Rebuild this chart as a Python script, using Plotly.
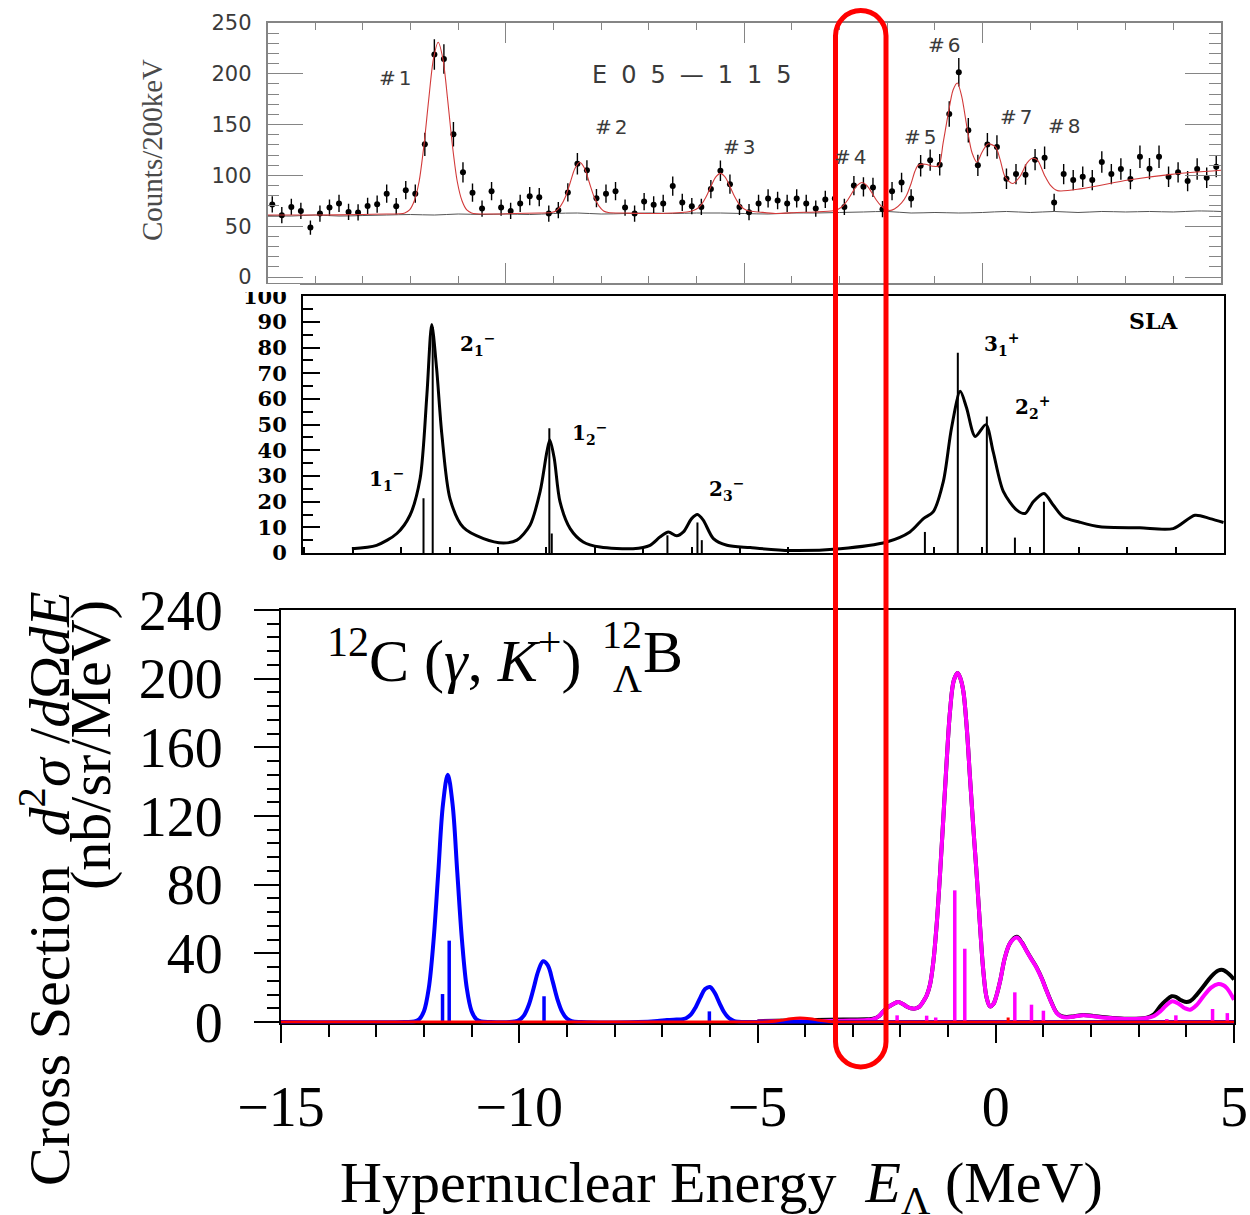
import plotly.graph_objects as go

W, H = 1250, 1215

# ---------------- top panel : E05-115 spectrum ----------------
exp_x = [-14.9, -14.7, -14.5, -14.3, -14.1, -13.9, -13.7, -13.5, -13.3, -13.1,
         -12.9, -12.7, -12.5, -12.3, -12.1, -11.9, -11.7, -11.5, -11.3, -11.1,
         -10.9, -10.7, -10.5, -10.3, -10.1, -9.9, -9.7, -9.5, -9.3, -9.1,
         -8.9, -8.7, -8.5, -8.3, -8.1, -7.9, -7.7, -7.5, -7.3, -7.1,
         -6.9, -6.7, -6.5, -6.3, -6.1, -5.9, -5.7, -5.5, -5.3, -5.1,
         -4.9, -4.7, -4.5, -4.3, -4.1, -3.9, -3.7, -3.5, -3.3, -3.1,
         -2.9, -2.7, -2.5, -2.3, -2.1, -1.9, -1.7, -1.5, -1.3, -1.1,
         -0.9, -0.7, -0.5, -0.3, -0.1, 0.1, 0.3, 0.5, 0.7, 0.9,
         1.1, 1.3, 1.5, 1.7, 1.9, 2.1, 2.3, 2.5, 2.7, 2.9,
         3.1, 3.3, 3.5, 3.7, 3.9, 4.1, 4.3, 4.5, 4.7, 4.9]
exp_counts = [71.4, 60.9, 69, 65, 48.7, 62.5, 68.4, 72.4, 64, 63.5,
              70, 71.7, 82, 69.7, 85.5, 82, 130.6, 219, 214.5, 140.5,
              103, 83, 67.4, 84.5, 68.4, 65, 72.4, 79.6, 78.6, 62.5,
              65.8, 83.2, 111.5, 105, 77.6, 82, 84.5, 68.4, 62.5, 74.3,
              71, 72.4, 89.5, 73.4, 69.7, 69, 86.5, 104.6, 91.4, 69,
              63.8, 72.4, 77.3, 75.3, 72.4, 77.3, 72.4, 67.4, 76.3, 77.3,
              69, 90, 88.8, 88.2, 66.8, 84.5, 93, 77.3, 109.5, 115,
              110.5, 160.5, 201.6, 144.4, 109.9, 130.3, 128, 96.7, 101.3, 100.7,
              115.5, 117.4, 73.4, 101.3, 95.4, 98.7, 95.4, 113.2, 101.3, 106.3,
              96.4, 118.4, 106.6, 118.4, 98.7, 103, 94.4, 106.3, 97.7, 108.6]
exp_err = [8, 8, 8, 8, 7, 8, 8, 8.5, 8, 8,
           8, 8.5, 9, 8, 9, 9, 11.5, 15, 14.5, 12,
           10, 9, 8, 9, 8, 8, 8.5, 9, 9, 8,
           8, 9, 10.5, 10, 9, 9, 9, 8, 8, 8.5,
           8.5, 8.5, 9.5, 8.5, 8, 8, 9, 10, 9.5, 8,
           8, 8.5, 9, 8.5, 8.5, 9, 8.5, 8, 8.5, 9,
           8, 9.5, 9.5, 9.5, 8, 9, 9.5, 9, 10.5, 10.5,
           10.5, 12.5, 14, 12, 10.5, 11.5, 11.5, 10, 10, 10,
           10.5, 11, 8.5, 10, 10, 10, 10, 10.5, 10, 10.5,
           10, 11, 10.5, 11, 10, 10, 10, 10.5, 10, 10.5]
fit_x = [-15, -14, -13, -12.5, -12.22, -12.12, -12.02, -11.92, -11.82, -11.72,
         -11.62, -11.52, -11.42, -11.32, -11.22, -11.12, -11.02, -10.92, -10.82, -10.72,
         -10.62, -10.3, -9.8, -9.3, -9.05, -8.95, -8.85, -8.75, -8.65, -8.55,
         -8.45, -8.35, -8.25, -8.15, -8.05, -7.95, -7.85, -7.5, -7.0, -6.5,
         -6.2, -6.1, -6.0, -5.9, -5.8, -5.7, -5.6, -5.5, -5.4, -5.3,
         -5.2, -5.1, -5.0, -4.9, -4.7, -4.35, -3.9, -3.5, -3.13, -3.03,
         -2.93, -2.83, -2.73, -2.63, -2.53, -2.43, -2.33, -2.23, -2.13, -2.03,
         -1.95, -1.85, -1.7, -1.6, -1.5, -1.42, -1.35, -1.2, -1.05, -0.92,
         -0.83, -0.72, -0.62, -0.53, -0.44, -0.32, -0.22, -0.12, -0.01, 0.11,
         0.27, 0.37, 0.47, 0.63, 0.78, 0.93, 1.04, 1.15, 1.30, 1.42,
         1.57, 2.09, 3.06, 3.96, 5.0]
fit_y = [61, 61, 61.5, 62, 62.2, 63, 66, 75, 94, 129,
         174, 214.5, 231, 214.5, 174, 129, 94, 75, 66, 63,
         62.2, 62, 62.5, 63, 63.5, 65, 70, 79, 93, 107,
         113, 107, 93, 79, 70, 65, 63.5, 63, 62.5, 63,
         64, 64.9, 66.9, 71.3, 79, 89, 98.3, 102, 98.3, 89,
         79, 71.3, 66.9, 64.9, 64, 62.5, 63.5, 64, 65.2, 66.7,
         70, 75.8, 83.4, 90.2, 93, 90.2, 83.4, 75.8, 70, 66.7,
         65.5, 67, 73, 80, 92, 104, 110, 111, 109, 109.5,
         131.6, 161, 184, 191, 178, 145, 122, 113, 123, 131,
         128, 115, 98.7, 92, 98.7, 112, 116.8, 115, 100, 90.5,
         85, 87, 95.4, 101, 105]
bg_x = [-15, -14.5, -14, -13.5, -13, -12.5, -12, -11.5, -11, -10.5,
        -10, -9.5, -9, -8.5, -8, -7.5, -7, -6.5, -6, -5.5,
        -5, -4.5, -4, -3.5, -3, -2.5, -2, -1.5, -1, -0.5,
        0, 0.5, 1, 1.5, 2, 2.5, 3, 3.5, 4, 4.5, 5]
bg_y = [60.5, 60, 61, 60, 60.5, 61, 61.5, 61, 62, 61.5,
        62, 61.5, 62.5, 63, 62, 62.5, 63, 62.5, 63, 63,
        62.5, 62, 63, 63, 63.5, 64, 64.5, 63, 63.5, 63,
        63.5, 64.5, 63.5, 64.5, 63.5, 64.5, 64, 64.5, 64, 65, 64.5]
peak_labels = ["#1", "#2", "#3", "#4", "#5", "#6", "#7", "#8"]
top_yticks = [0, 50, 100, 150, 200, 250]
top_xticks = [-15, -10, -5, 0, 5]

# ---------------- middle panel : SLA calculation ----------------
sla_x = [-13.02, -12.51, -12.09, -11.82, -11.61, -11.47, -11.37, -11.27, -11.16, -10.99,
         -10.72, -10.30, -9.89, -9.61, -9.34, -9.13, -8.99, -8.93, -8.84, -8.72,
         -8.51, -8.24, -7.89, -7.21, -6.86, -6.65, -6.48, -6.31, -6.17, -6.00,
         -5.88, -5.76, -5.55, -5.27, -4.79, -3.97, -2.93, -1.97, -1.49, -1.21,
         -1.01, -0.80, -0.63, -0.45, -0.32, -0.14, 0.08, 0.23, 0.44, 0.72,
         0.89, 1.06, 1.28, 1.47, 1.68, 2.02, 2.44, 3.26, 3.95, 4.40,
         4.71, 4.99]
sla_y = [1.7, 3, 7.6, 14.7, 29, 61.7, 89, 72, 46, 21,
         10, 5.6, 3.9, 5, 10.8, 24, 39.5, 44, 37, 20,
         9.5, 4.3, 2.3, 1.7, 3, 6.3, 8.2, 6.7, 8.2, 13.4,
         15, 12.8, 5.6, 3, 2.1, 1, 1.7, 4.3, 8.2, 13.4,
         16, 27.8, 48.7, 63, 56.6, 45.4, 50, 39.5, 24, 16.7,
         15.4, 20, 23.2, 18.7, 14, 12, 10.2, 9.8, 9.5, 14.7,
         13.4, 11.9]
sla_stick_x = [-11.54, -11.35, -8.94, -8.89, -6.50, -5.88, -5.79, -1.18, -0.50, 0.10, 0.68, 1.28]
sla_stick_h = [21.3, 88, 48.6, 7.6, 6.9, 11.9, 5, 8.2, 78, 53.2, 6, 20]
sla_state_labels = ["1<sub>1</sub><sup>−</sup>", "2<sub>1</sub><sup>−</sup>", "1<sub>2</sub><sup>−</sup>",
                    "2<sub>3</sub><sup>−</sup>", "3<sub>1</sub><sup>+</sup>", "2<sub>2</sub><sup>+</sup>"]
mid_yticks = [0, 10, 20, 30, 40, 50, 60, 70, 80, 90, 100]
mid_xticks = [-12, -10, -8, -6, -4, -2, 0, 2, 4]

# ---------------- bottom panel : cross sections ----------------
blue_x = [-15, -12.4, -12.2, -12.1, -12.0, -11.9, -11.8, -11.7, -11.6, -11.5,
          -11.4, -11.3, -11.2, -11.1, -11.0, -10.9, -10.8, -10.6, -10.2, -10.1,
          -10.0, -9.9, -9.8, -9.7, -9.6, -9.5, -9.4, -9.3, -9.2, -9.1,
          -9.0, -8.9, -8.7, -7.5, -7.1, -6.9, -6.7, -6.6, -6.5, -6.4,
          -6.3, -6.2, -6.1, -6.0, -5.9, -5.8, -5.7, -5.6, -5.5, -5.4,
          -5.2, -4.5, 5]
blue_y = [0, 0, 0.3, 1.6, 6.3, 19.5, 47, 87, 127, 144,
          127, 87, 47, 19.5, 6.3, 1.6, 0.3, 0, 0, 0.3,
          1.2, 3.9, 9.9, 19.5, 29.8, 35.4, 33, 23.8, 13.4, 5.9,
          2, 0.5, 0, 0, 0.6, 1.2, 1.4, 1.5, 2.2, 4.3,
          8.5, 14.2, 19.2, 20.4, 17.1, 11.2, 5.7, 2.3, 0.7, 0.2,
          0, 0, 0]
magenta_x = [-5.0, -3.2, -2.7, -2.57, -2.45, -2.36, -2.27, -2.18, -2.05, -1.95,
             -1.87, -1.78, -1.70, -1.60, -1.52, -1.45, -1.38, -1.31, -1.24, -1.17,
             -1.10, -1.03, -0.96, -0.88, -0.80, -0.74, -0.68, -0.61, -0.54, -0.47,
             -0.40, -0.33, -0.26, -0.19, -0.12, -0.05, 0.02, 0.10, 0.19, 0.30,
             0.44, 0.55, 0.65, 0.75, 0.86, 0.97, 1.07, 1.18, 1.28, 1.38,
             1.49, 1.65, 1.84, 2.05, 2.40, 2.75, 3.17, 3.32, 3.45, 3.57,
             3.69, 3.78, 3.87, 3.97, 4.08, 4.22, 4.36, 4.52, 4.67, 4.77,
             4.85, 4.93, 5.0]
magenta_y = [0.3, 0.8, 1.2, 1.7, 3.5, 6.2, 8.5, 10, 11.6, 10.5,
             9.1, 8.0, 7.8, 9, 12, 15.5, 21.7, 35, 56.7, 86,
             118.8, 152, 181, 199, 203.3, 200, 192.6, 172, 142, 113,
             85.8, 56, 29.5, 14, 9.1, 10.5, 15.9, 25, 37.3, 46,
             49.3, 46, 41.2, 36.5, 31.5, 25, 17.9, 10.5, 5.2, 3.2,
             2.7, 3.2, 3.9, 3.3, 2.3, 1.7, 2.3, 3.5, 6.2, 9.5,
             12, 11.5, 10, 8, 7.2, 10, 15, 20, 22.1, 21.5,
             19.8, 16.5, 13]
total_y = [0.5, 1.5, 1.6, 1.9, 3.5, 6.2, 8.5, 10, 11.6, 10.5,
           9.1, 8.0, 7.8, 9, 12, 15.5, 21.7, 35, 56.7, 86,
           118.8, 152, 181, 199, 203.3, 200, 192.6, 172, 142, 113,
           85.8, 56, 29.5, 14, 9.1, 10.5, 15.9, 25, 37.3, 46,
           49.6, 46.3, 41.4, 36.7, 31.7, 25.2, 18, 10.7, 5.4, 3.4,
           2.9, 3.4, 4.1, 3.5, 2.5, 1.9, 2.5, 4.5, 9.1, 12.5,
           15, 14.7, 13, 11.8, 12.2, 16, 20.8, 26.5, 30, 30.3,
           29, 27, 24.7]
red_x = [-15, -5.0, -4.7, -4.5, -4.3, -4.11, -3.9, -3.7, -3.5, -3.0, 5]
red_y = [0, 0, 0.3, 1.0, 1.9, 2.3, 1.9, 1.0, 0.3, 0, 0]
blue_stick_x = [-11.61, -11.47, -9.48, -6.01]
blue_stick_h = [16.3, 47.4, 15, 6.2]
mag_stick_x = [-2.07, -1.45, -1.26, -0.86, -0.65, 0.40, 0.75, 1.00, 3.59, 3.78, 4.55, 4.86]
mag_stick_h = [3.9, 3.7, 2.7, 76.7, 42.7, 17.3, 10.1, 6.6, 1.7, 3.9, 7.6, 5.2]
red_stick_x = [0.26]
red_stick_h = [2.7]
bot_xticks = [-15, -10, -5, 0, 5]
bot_yticks = [0, 40, 80, 120, 160, 200, 240]


def px(x):
    return x / W


def py(y):
    return 1 - y / H


def sticks(xs, hs):
    X, Y = [], []
    for x, h in zip(xs, hs):
        X += [x, x, None]
        Y += [0, h, None]
    return X, Y


fig = go.Figure()

# top panel traces
fig.add_trace(go.Scatter(x=bg_x, y=bg_y, mode="lines", line=dict(color="#555", width=1, shape="spline"),
                         xaxis="x", yaxis="y"))
fig.add_trace(go.Scatter(x=exp_x, y=exp_counts, mode="markers",
                         marker=dict(color="black", size=6),
                         error_y=dict(type="data", array=exp_err, visible=True, thickness=1.4, width=0, color="black"),
                         xaxis="x", yaxis="y"))
fig.add_trace(go.Scatter(x=fit_x, y=fit_y, mode="lines", line=dict(color="#d23a3a", width=1.1, shape="spline", smoothing=0.8),
                         xaxis="x", yaxis="y"))

# middle panel traces
sx, sy = sticks(sla_stick_x, sla_stick_h)
fig.add_trace(go.Scatter(x=sx, y=sy, mode="lines", line=dict(color="black", width=2), xaxis="x2", yaxis="y2"))
fig.add_trace(go.Scatter(x=sla_x, y=sla_y, mode="lines", line=dict(color="black", width=3, shape="spline", smoothing=0.8),
                         xaxis="x2", yaxis="y2"))

# bottom panel traces
fig.add_trace(go.Scatter(x=magenta_x, y=total_y, mode="lines", line=dict(color="black", width=4, shape="spline"),
                         xaxis="x3", yaxis="y3"))
fig.add_trace(go.Scatter(x=magenta_x, y=magenta_y, mode="lines", line=dict(color="#ff00ff", width=4, shape="spline"),
                         xaxis="x3", yaxis="y3"))
fig.add_trace(go.Scatter(x=blue_x, y=blue_y, mode="lines", line=dict(color="#0000ff", width=4, shape="spline"),
                         xaxis="x3", yaxis="y3"))
bx, by = sticks(blue_stick_x, blue_stick_h)
fig.add_trace(go.Scatter(x=bx, y=by, mode="lines", line=dict(color="#0000ff", width=3.5), xaxis="x3", yaxis="y3"))
mx, my = sticks(mag_stick_x, mag_stick_h)
fig.add_trace(go.Scatter(x=mx, y=my, mode="lines", line=dict(color="#ff00ff", width=3.5), xaxis="x3", yaxis="y3"))
rx, ry = sticks(red_stick_x, red_stick_h)
fig.add_trace(go.Scatter(x=rx, y=ry, mode="lines", line=dict(color="#ff0000", width=3), xaxis="x3", yaxis="y3"))
fig.add_trace(go.Scatter(x=red_x, y=red_y, mode="lines", line=dict(color="#ff0000", width=3, shape="spline"),
                         xaxis="x3", yaxis="y3"))

GRAY = "#858585"
top_font = dict(family="DejaVu Sans", size=21, color="#3a3a3a")
mid_font = dict(family="DejaVu Serif", size=21, color="black", weight="bold")
bot_font = dict(family="Liberation Serif", size=56, color="black")

fig.update_layout(
    width=W, height=H, margin=dict(l=0, r=0, t=0, b=0, autoexpand=False), autosize=False,
    paper_bgcolor="white", plot_bgcolor="white", showlegend=False, hovermode=False,
    xaxis=dict(domain=[px(267.5), px(1221)], range=[-15, 5], anchor="y",
               tickmode="array", tickvals=top_xticks, showticklabels=False,
               ticks="inside", ticklen=20, tickwidth=1.3, tickcolor=GRAY,
               minor=dict(tickmode="linear", tick0=0, dtick=1, ticks="inside", ticklen=7, tickcolor=GRAY, tickwidth=1.3),
               showline=True, linecolor=GRAY, linewidth=1.5, mirror="ticks",
               showgrid=False, zeroline=False),
    yaxis=dict(domain=[py(283), py(23)], range=[-5.9, 250], anchor="x",
               tickmode="array", tickvals=top_yticks, tickfont=top_font,
               ticks="inside", ticklen=36, tickwidth=1.3, tickcolor=GRAY,
               minor=dict(tickmode="linear", tick0=0, dtick=10, ticks="inside", ticklen=12, tickcolor=GRAY, tickwidth=1.3),
               showline=True, linecolor=GRAY, linewidth=1.5, mirror="ticks",
               ticklabelstandoff=10, showgrid=False, zeroline=False),
    xaxis2=dict(domain=[px(303), px(1224)], range=[-14.03, 5.0], anchor="y2",
                tickmode="array", tickvals=mid_xticks, tickfont=mid_font,
                ticks="inside", ticklen=6, tickwidth=1.5, tickcolor="black",
                minor=dict(tickmode="linear", tick0=0, dtick=1, ticks="inside", ticklen=6, tickcolor="black", tickwidth=1.5),
                showline=True, linecolor="black", linewidth=2, mirror=True,
                ticklabelstandoff=4, showgrid=False, zeroline=False),
    yaxis2=dict(domain=[py(553), py(296.3)], range=[0, 100], anchor="x2",
                tickmode="array", tickvals=mid_yticks, tickfont=mid_font,
                ticks="inside", ticklen=17, tickwidth=1.5, tickcolor="black",
                minor=dict(tickmode="linear", tick0=0, dtick=5, ticks="inside", ticklen=10, tickcolor="black", tickwidth=1.5),
                showline=True, linecolor="black", linewidth=2, mirror=True,
                ticklabelstandoff=10, showgrid=False, zeroline=False),
    xaxis3=dict(domain=[px(281), px(1234)], range=[-15, 5], anchor="y3",
                tickmode="array", tickvals=bot_xticks, tickfont=bot_font,
                ticks="outside", ticklen=18, tickwidth=2, tickcolor="black",
                minor=dict(tickmode="linear", tick0=0, dtick=1, ticks="outside", ticklen=12, tickcolor="black", tickwidth=2),
                showline=True, linecolor="black", linewidth=2, mirror=True,
                ticklabelstandoff=15, showgrid=False, zeroline=False, layer="below traces"),
    yaxis3=dict(domain=[py(1023.4), py(610)], range=[-0.8, 240], anchor="x3",
                tickmode="array", tickvals=bot_yticks, tickfont=bot_font,
                ticks="outside", ticklen=25, tickwidth=2, tickcolor="black",
                minor=dict(tickmode="linear", tick0=0, dtick=8, ticks="outside", ticklen=12, tickcolor="black", tickwidth=2),
                showline=True, linecolor="black", linewidth=2, mirror=True,
                ticklabelstandoff=20, showgrid=False, zeroline=False, layer="below traces"),
)

anns = []


def ann(text, x, y, size, family, color="black", angle=0, xanchor="center", yanchor="middle"):
    anns.append(dict(text=text, x=px(x), y=py(y), xref="paper", yref="paper", showarrow=False,
                     xanchor=xanchor, yanchor=yanchor, textangle=angle,
                     font=dict(size=size, family=family, color=color)))


# top panel texts
ann("Counts/200keV", 152, 150, 29, "Liberation Serif", "#4a4a4a", -90)
peak_pos = [(394, 78), (610, 127), (738, 147), (849, 157), (919, 137), (943, 45), (1015, 117), (1063, 126)]
for lab, (x, y) in zip(peak_labels, peak_pos):
    ann('<span style="letter-spacing:3px">' + lab + '</span>', x + 2, y, 20, "DejaVu Sans", "#3a3a3a")
ann('<span style="letter-spacing:14px">E05—115</span>', 699, 75, 24, "DejaVu Sans", "#3a3a3a")

# middle panel texts
state_pos = [(386, 479), (477, 345), (589, 433), (726, 489), (1001, 345), (1032, 407)]
for lab, (x, y) in zip(sla_state_labels, state_pos):
    ann("<b>" + lab + "</b>", x, y, 20, "DejaVu Serif")
ann("<b>SLA</b>", 1153, 321, 22, "DejaVu Serif")

# bottom panel texts
ann("<sup>12</sup>C (<i>γ</i>, <i>K</i><sup>+</sup>)", 325, 656, 60, "Liberation Serif", xanchor="left")
ann("12", 622, 634, 40, "Liberation Serif")
ann("Λ", 627, 678, 40, "Liberation Serif")
ann("B", 663, 652, 60, "Liberation Serif")
ann("Cross Section  <i>d</i><sup>2</sup><i>σ</i> /<i>d</i>Ω<i>dE</i>", 45, 889, 58, "Liberation Serif", angle=-90)
ann("(nb/sr/MeV)", 90, 745, 58, "Liberation Serif", angle=-90)
ann("Hypernuclear Energy  <i>E</i><sub>Λ</sub> (MeV)", 721, 1186, 58, "Liberation Serif")
fig.update_layout(annotations=anns)

# shapes: white masks (composite cropping) and the red rounded marker
shapes = [
    dict(type="rect", xref="paper", yref="paper", x0=px(290), x1=px(1250), y0=py(607), y1=py(569),
         fillcolor="white", line=dict(width=0), layer="above"),
    dict(type="rect", xref="paper", yref="paper", x0=px(235), x1=px(300), y0=py(292), y1=py(284),
         fillcolor="white", line=dict(width=0), layer="above"),
]
L, R, T, B = 835.5, 886.0, 10.5, 1067.0
r = (R - L) / 2
cx = L + r
k = 0.5523 * r


def P(x, y):
    return f"{px(x):.6f},{py(y):.6f}"


path = (f"M {P(L, T + r)} C {P(L, T + r - k)} {P(cx - k, T)} {P(cx, T)} "
        f"C {P(cx + k, T)} {P(R, T + r - k)} {P(R, T + r)} "
        f"L {P(R, B - r)} C {P(R, B - r + k)} {P(cx + k, B)} {P(cx, B)} "
        f"C {P(cx - k, B)} {P(L, B - r + k)} {P(L, B - r)} Z")
shapes.append(dict(type="path", xref="paper", yref="paper", path=path,
                   line=dict(color="#ff0000", width=5), layer="above"))
fig.update_layout(shapes=shapes)

fig.write_html("out.html")
